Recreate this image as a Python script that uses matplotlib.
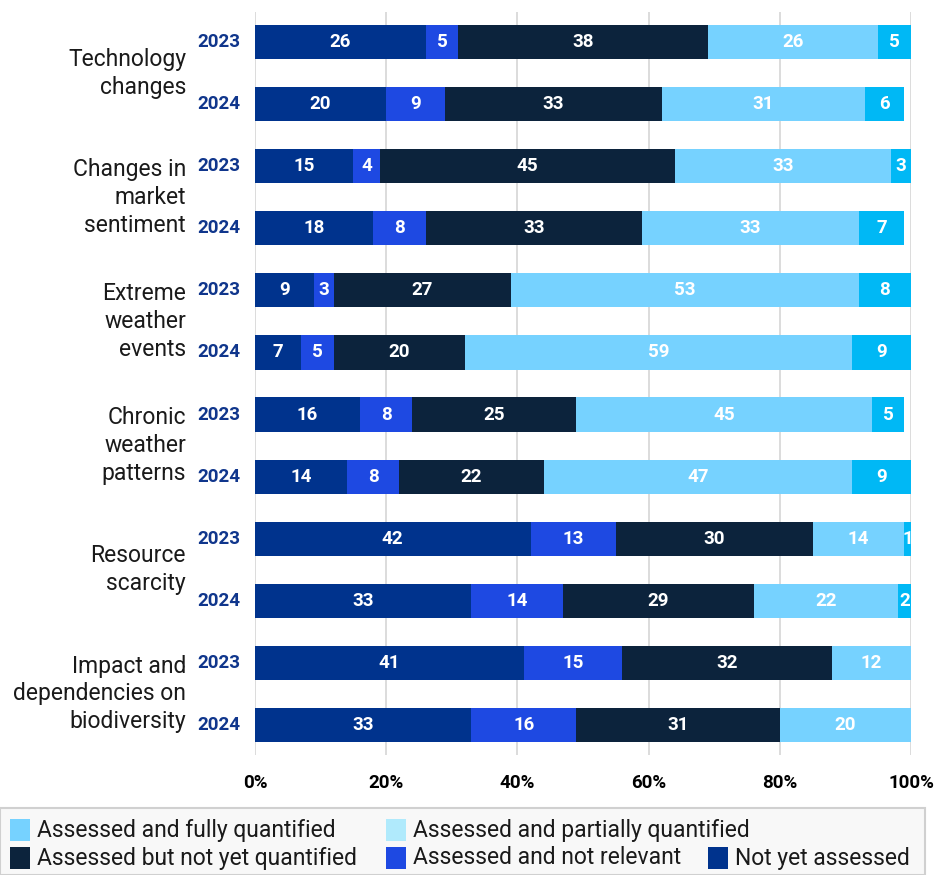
import matplotlib.pyplot as plt
from matplotlib.patches import Rectangle
import numpy as np

categories = ['Technology\nchanges', 'Changes in\nmarket\nsentiment', 'Extreme\nweather\nevents',
              'Chronic\nweather\npatterns', 'Resource\nscarcity', 'Impact and\ndependencies on\nbiodiversity']
years = ['2023', '2024']

# shares per bar, top to bottom (two years per category)
not_yet_assessed = [26, 20, 15, 18, 9, 7, 16, 14, 42, 33, 41, 33]
not_relevant = [5, 9, 4, 8, 3, 5, 8, 8, 13, 14, 15, 16]
not_yet_quantified = [38, 33, 45, 33, 27, 20, 25, 22, 30, 29, 32, 31]
partially_quantified = [26, 31, 33, 33, 53, 59, 45, 47, 14, 22, 12, 20]
fully_quantified = [5, 6, 3, 7, 8, 9, 5, 9, 1, 2, 0, 0]

series = [not_yet_assessed, not_relevant, not_yet_quantified, partially_quantified, fully_quantified]
bar_colors = ['#00338d', '#1e49e2', '#0c233c', '#76d2ff', '#00b8f5']

# legend entries as laid out: (label, colour, row, x of swatch in px)
legend_items = [('Assessed and fully quantified', '#76d2ff', 0, 10),
                ('Assessed and partially quantified', '#b0eafc', 0, 386),
                ('Assessed but not yet quantified', '#0c233c', 1, 10),
                ('Assessed and not relevant', '#1e49e2', 1, 386),
                ('Not yet assessed', '#00338d', 1, 708)]

num_font = ['Roboto', 'DejaVu Sans']
txt_font = ['Roboto', 'DejaVu Sans']

W, H = 935, 875
fig = plt.figure(figsize=(W / 100, H / 100), dpi=100)
ax = fig.add_axes([255 / W, 1 - 755 / H, 656 / W, 743 / H])

y = np.arange(len(not_yet_assessed))
left = np.zeros(len(y))
for vals, col in zip(series, bar_colors):
    vals = np.array(vals)
    ax.barh(y, vals, left=left, height=0.55, color=col, zorder=2)
    for yi, l, v in zip(y, left, vals):
        if v > 0:
            ax.text(l + v / 2, yi, str(v), ha='center', va='center', color='white',
                    fontsize=13.5, fontweight='bold', family=num_font, zorder=3)
    left += vals

ax.set_xlim(0, 100)
ax.set_ylim(len(y) - 1 + 0.484, -0.484)
ax.set_xticks(range(0, 101, 20))
ax.set_xticklabels([f'{t}%' for t in range(0, 101, 20)], fontsize=13.5,
                   fontweight='bold', family=num_font)
ax.tick_params(axis='x', length=0, pad=14)
ax.set_yticks([])
ax.grid(axis='x', color='#d9d9d9', linewidth=1.3, zorder=0)
for s in ax.spines.values():
    s.set_visible(False)

# year labels beside each bar, category names between each pair
for i, yi in enumerate(y):
    ax.text(-2.2, yi, years[i % 2], ha='right', va='center', color='#10368c',
            fontsize=13.5, fontweight='bold', family=num_font)
for k, cat in enumerate(categories):
    ax.text(-10.5, 2 * k + 0.5, cat, ha='right', va='center', color='#1a1a1a',
            fontsize=16.5, fontweight='normal', family=txt_font, linespacing=1.27)

# legend box at the bottom, drawn in pixel-based figure coordinates
fig.patches.append(Rectangle((0, 0), 925 / W, 67 / H, transform=fig.transFigure,
                             facecolor='#f8f8f8', edgecolor='#d0d0d0', linewidth=1.5))
for label, col, row, x0 in legend_items:
    yc = 830 + 28 * row
    fig.patches.append(Rectangle((x0 / W, 1 - (yc + 11) / H), 20 / W, 22 / H,
                                 transform=fig.transFigure, facecolor=col, edgecolor='none'))
    fig.text((x0 + 27) / W, 1 - yc / H, label, ha='left', va='center', color='#1a1a1a',
             fontsize=16.5, family=txt_font)

fig.savefig('out.png', dpi=100)
